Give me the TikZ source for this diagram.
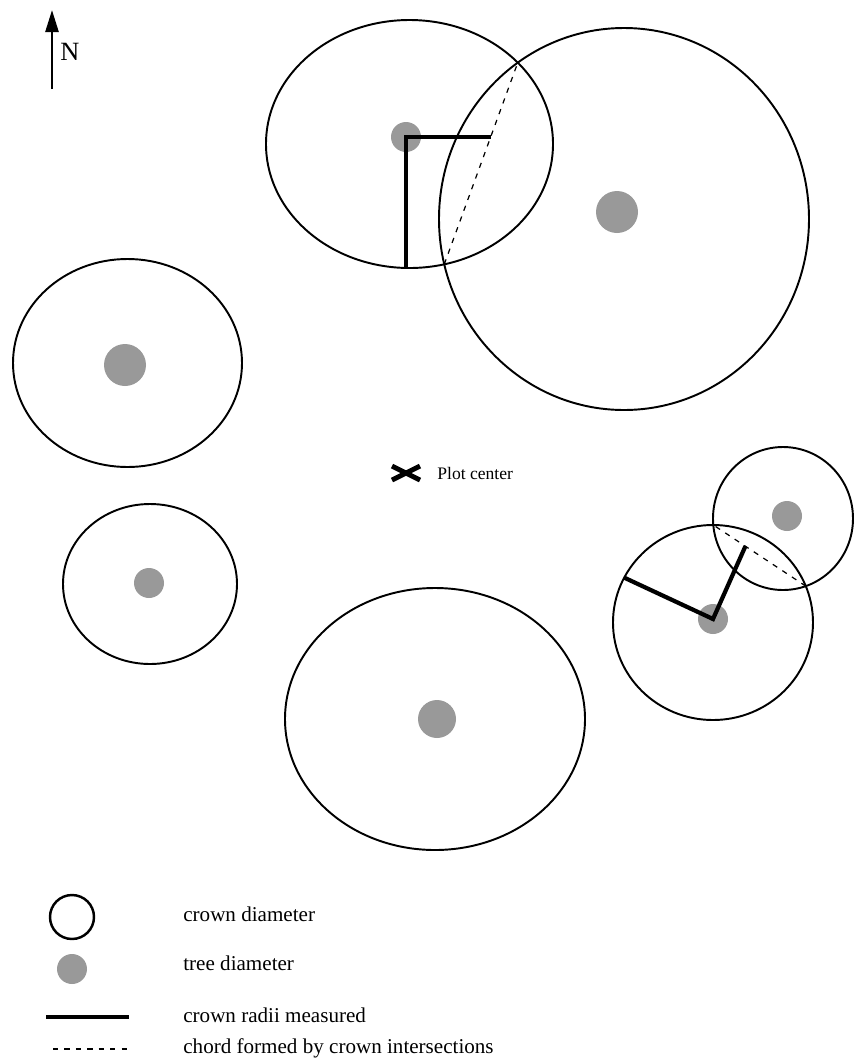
\documentclass[tikz,border=0pt]{standalone}
\usepackage{fontspec}
\setmainfont{Liberation Serif}
\usepackage{tikz}
\usetikzlibrary{arrows.meta, intersections, calc}

\begin{document}
\begin{tikzpicture}[
    x=0.02cm, y=-0.02cm,
    every node/.style={font=\fontsize{12}{14}\selectfont, inner sep=0pt},
    crown/.style={draw, line width=1.1pt},
    stem/.style={fill=black!40},
    crownradius/.style={line width=2.4pt},
    chord/.style={line width=0.7pt, dash pattern=on 3pt off 3.5pt},
    northarrow/.style={line width=1.4pt, -{Triangle[length=4.4mm, width=2.6mm]}}
]
\useasboundingbox (0,0) rectangle (853,1059);

% North arrow
\coordinate (nbase) at (52,89);
\coordinate (ntip) at (52,10);
\draw[northarrow] (nbase) -- (ntip);
\node[font=\fontsize{15}{17}\selectfont] (north) at (70,52) {N};

% Crowns
\draw[crown, name path=e1] (409.5,144) ellipse [x radius=143.5, y radius=124];
\draw[crown, name path=e2] (624,219) ellipse [x radius=185, y radius=191];
\draw[crown] (127.5,363) ellipse [x radius=114.5, y radius=104];
\draw[crown] (150,584) ellipse [x radius=87, y radius=80];
\draw[crown] (435,719) ellipse [x radius=150, y radius=131];
\draw[crown, name path=e6] (783,518.5) ellipse [x radius=70, y radius=71.5];
\draw[crown, name path=e7] (713,622.5) ellipse [x radius=100, y radius=97.5];

% Trees
\coordinate (t1) at (406,137);
\coordinate (t2) at (617,212);
\coordinate (t3) at (125,365);
\coordinate (t4) at (149,583);
\coordinate (t5) at (437,719);
\coordinate (t6) at (787,516);
\coordinate (t7) at (713,619);
\fill[stem] (t1) circle [radius=15];
\fill[stem] (t2) circle [radius=21];
\fill[stem] (t3) circle [radius=21];
\fill[stem] (t4) circle [radius=15];
\fill[stem] (t5) circle [radius=19];
\fill[stem] (t6) circle [radius=15];
\fill[stem] (t7) circle [radius=15];

% Chords
\path[name intersections={of=e1 and e2, name=x12}];
\draw[chord, name path=c12] (x12-1) -- (x12-2);
\path[name intersections={of=e6 and e7, name=x67}];
\draw[chord, name path=c67] (x67-1) -- (x67-2);

% Radii, upper pair
\path[name path=h1] (t1) -- ++(200,0);
\path[name intersections={of=h1 and c12, by=r1e}];
\coordinate (r1s) at (406,268);
\draw[crownradius] (r1e) -- (t1) -- (r1s);

% Radii, lower pair
\path[name path=h7] (t7) -- ++(-66:150);
\path[name intersections={of=h7 and c67, by=r7e}];
\path[name path=g7] (t7) -- ++(-155:150);
\path[name intersections={of=g7 and e7, by=r7s}];
\draw[crownradius] (r7e) -- (t7) -- (r7s);

% Plot center
\coordinate (pc) at (406,473);
\draw[line width=2.8pt] ($(pc)+(-14,-7)$) -- ($(pc)+(14,7)$);
\draw[line width=2.8pt] ($(pc)+(-14,7)$) -- ($(pc)+(14,-7)$);
\node[anchor=west, font=\fontsize{10}{12}\selectfont] (pclabel) at (437,473) {Plot center};

% Legend
\draw[crown, line width=1.4pt] (72,917) circle [radius=22];
\fill[stem] (72,969) circle [radius=15];
\draw[crownradius] (46,1017) -- (129,1017);
\draw[chord] (53,1049) -- (130,1049);

\node[anchor=base west] (lcrown) at (183,921) {crown diameter};
\node[anchor=base west] (ltree) at (183,970) {tree diameter};
\node[anchor=base west] (lradii) at (183,1022) {crown radii measured};
\node[anchor=base west] (lchord) at (183,1053) {chord formed by crown intersections};

\end{tikzpicture}
\end{document}
